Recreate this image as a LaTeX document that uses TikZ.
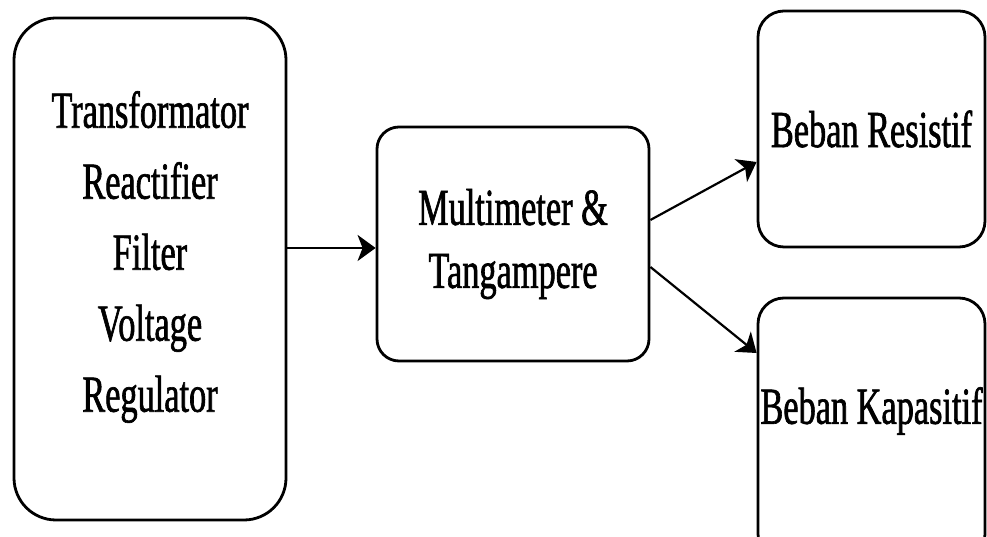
\documentclass[tikz,border=0pt]{standalone}
\usepackage{fontspec}
\setmainfont{Liberation Serif}[FakeStretch=0.66,FakeBold=1.2]
\usetikzlibrary{arrows.meta}
\begin{document}
\begin{tikzpicture}[x=1pt,y=1pt,
  blk/.style={draw=black, line width=2.8pt, rounded corners=#1, align=center, inner sep=0pt, fill=white},
  arr/.style={line width=2.6pt, -{Stealth[length=18pt,width=26pt,inset=5pt]}},
  txt/.style={font=\fontsize{52}{71}\selectfont, align=center, inner sep=0pt}]
\useasboundingbox (0,0) rectangle (987,537);
\begin{scope}
\clip (0,0) rectangle (987,537);
\node[blk=42pt, minimum width=272pt, minimum height=502pt,
  label={[txt, yshift=12pt]center:Transformator\\Reactifier\\Filter\\Voltage\\Regulator}] (L) at (150,268) {};
\node[blk=22pt, minimum width=272pt, minimum height=234pt, font=\fontsize{52}{63}\selectfont] (M) at (513,293)
  {Multimeter \&\\Tangampere};
\node[blk=26pt, minimum width=227pt, minimum height=236pt, txt] (R1) at (871.5,408)
  {Beban Resistif};
\node[blk=26pt, minimum width=227pt, minimum height=262pt,
  label={[txt, yshift=18pt]center:Beban Kapasitif}] (R2) at (871.5,108) {};
\end{scope}
\coordinate (Min) at ([yshift=-4pt]M.west);
\draw[arr] (L.east |- Min) -- (Min);
\draw[arr, line width=2.2pt] ([yshift=24pt]M.east) -- ([yshift=-33pt]R1.west);
\draw[arr, line width=2.2pt] ([yshift=-23pt]M.east) -- ([yshift=76pt]R2.west);
\end{tikzpicture}
\end{document}
